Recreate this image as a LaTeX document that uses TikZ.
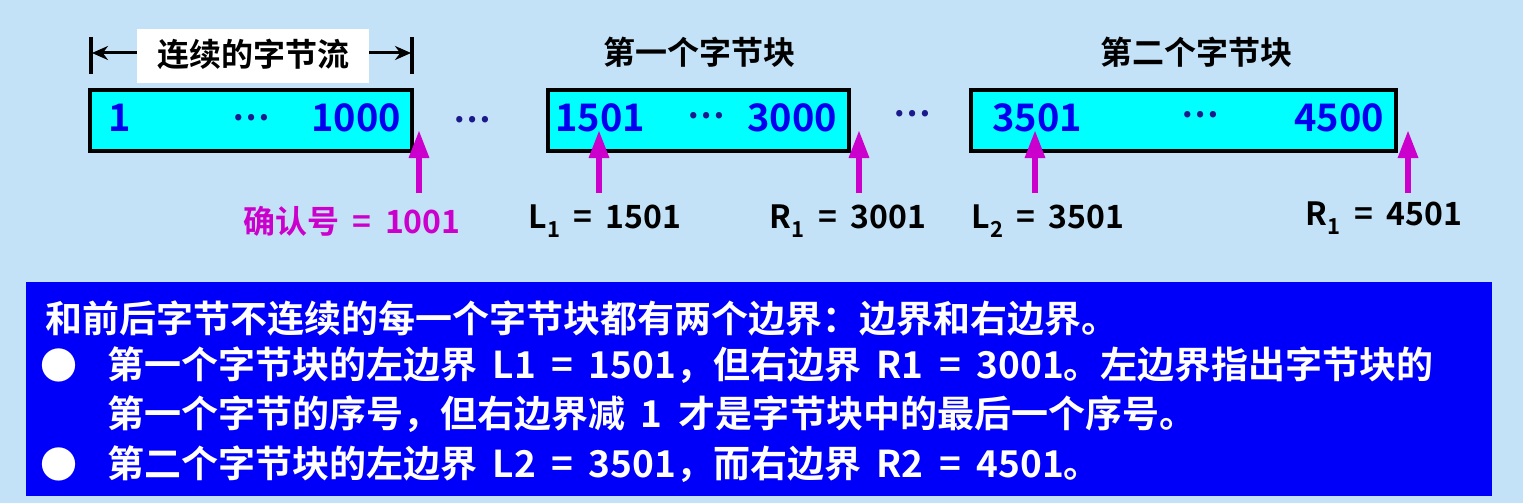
\documentclass[tikz,border=0pt]{standalone}
\usepackage{fontspec}
\setmainfont{Noto Sans CJK SC}[BoldFont=* Bold]
\usetikzlibrary{arrows.meta}
\definecolor{bgblue}{RGB}{196,226,247}
\definecolor{boxcyan}{RGB}{0,255,255}
\definecolor{numblue}{RGB}{0,0,238}
\definecolor{dotnavy}{RGB}{26,26,140}
\definecolor{mag}{RGB}{204,0,204}
\definecolor{panelblue}{RGB}{0,0,250}
\tikzset{
  blk/.style={draw=black, line width=4pt, fill=boxcyan, inner sep=0pt},
  num/.style={inner sep=0pt, text=numblue, font=\bfseries\fontsize{38}{40}\selectfont},
  dots/.style={inner sep=0pt, text=dotnavy, font=\bfseries\fontsize{34}{40}\selectfont},
  ttl/.style={inner sep=0pt, text=black, font=\bfseries\fontsize{32}{36}\selectfont},
  lbl/.style={inner sep=0pt, text=black, font=\bfseries\fontsize{32}{36}\selectfont},
  uparrow/.style={draw=mag, line width=6pt, -{Triangle[length=28pt,width=19pt]}},
  tick/.style={draw=black, line width=4pt},
  dimarrow/.style={draw=black, line width=3pt, -{Stealth[length=16pt,width=14pt]}},
  para/.style={inner sep=0pt, anchor=west, text=white, font=\bfseries\fontsize{37}{44}\selectfont},
}
\newcommand{\sbs}[1]{\raisebox{-0.28em}{\fontsize{22}{22}\selectfont #1}}
\newcommand{\gap}{\hspace{0.42em}}
\begin{document}
\begin{tikzpicture}[x=1pt,y=-1pt]
\fill[bgblue] (0,0) rectangle (1523,503);
\useasboundingbox (0,0) rectangle (1523,503);

% dimension bracket
\coordinate (tl1) at (91,37); \coordinate (tl2) at (91,74);
\coordinate (tr1) at (412,37); \coordinate (tr2) at (412,74);
\coordinate (dl) at (91,53); \coordinate (dr) at (412,53);
\coordinate (dml) at (140,53); \coordinate (dmr) at (368,53);
\draw[tick] (tl1) -- (tl2);
\draw[tick] (tr1) -- (tr2);
\draw[dimarrow] (dml) -- ([xshift=1pt]dl);
\draw[dimarrow] (dmr) -- ([xshift=-1pt]dr);
\node[fill=white, minimum width=232pt, minimum height=54pt, inner sep=0pt] (stream) at (253,56) {};
\node[ttl] (streamtxt) at (253,54) {连续的字节流};

% titles
\node[ttl] (t1) at (699,52) {第一个字节块};
\node[ttl] (t2) at (1196,52) {第二个字节块};

% boxes
\node[blk, minimum width=322pt, minimum height=61pt] (b1) at (251,120.5) {};
\node[blk, minimum width=301pt, minimum height=61pt] (b2) at (698.5,120.5) {};
\node[blk, minimum width=425pt, minimum height=61pt] (b3) at (1183.5,120.5) {};

\node[num] (n1) at (120,118) {1};
\node[dots] (d1) at (251,118) {…};
\node[num] (n2) at (356,118) {1000};
\node[num] (n3) at (600,118) {1501};
\node[dots] (d2) at (706,116) {…};
\node[num] (n4) at (792,118) {3000};
\node[num] (n5) at (1037,118) {3501};
\node[dots] (d3) at (1200,115) {…};
\node[num] (n6) at (1339,118) {4500};
\node[dots] (g1) at (472,120) {…};
\node[dots] (g2) at (912,114) {…};

% arrows
\coordinate (a1s) at (419,193); \coordinate (a1e) at (419,130);
\coordinate (a2s) at (599,193); \coordinate (a2e) at (599,130);
\coordinate (a3s) at (859,193); \coordinate (a3e) at (859,130);
\coordinate (a4s) at (1035,193); \coordinate (a4e) at (1035,130);
\coordinate (a5s) at (1408,193); \coordinate (a5e) at (1408,130);
\draw[uparrow] (a1s) -- (a1e);
\draw[uparrow] (a2s) -- (a2e);
\draw[uparrow] (a3s) -- (a3e);
\draw[uparrow] (a4s) -- (a4e);
\draw[uparrow] (a5s) -- (a5e);

% labels
\node[lbl, text=mag] (ack) at (352,221) {确认号\gap=\gap1001};
\node[lbl] (l1) at (605,221) {L\sbs{1}\gap=\gap1501};
\node[lbl] (r1) at (848,221) {R\sbs{1}\gap=\gap3001};
\node[lbl] (l2) at (1048,221) {L\sbs{2}\gap=\gap3501};
\node[lbl] (r1b) at (1384,218) {R\sbs{1}\gap=\gap4501};

% panel
\node[fill=panelblue, minimum width=1466pt, minimum height=214pt, inner sep=0pt] (panel) at (759,389) {};
\node[para] (p1) at (45,318) {和前后字节不连续的每一个字节块都有两个边界：边界和右边界。};
\node[para] (bu1) at (40,365) {●};
\node[para] (p2) at (107,365) {第一个字节块的左边界\gap L1\gap=\gap1501，但右边界\gap R1\gap=\gap3001。左边界指出字节块的};
\node[para] (p3) at (107,414) {第一个字节的序号，但右边界减\gap 1\gap 才是字节块中的最后一个序号。};
\node[para] (bu2) at (40,464) {●};
\node[para] (p4) at (107,464) {第二个字节块的左边界\gap L2\gap=\gap3501，而右边界\gap R2\gap=\gap4501。};
\end{tikzpicture}
\end{document}
